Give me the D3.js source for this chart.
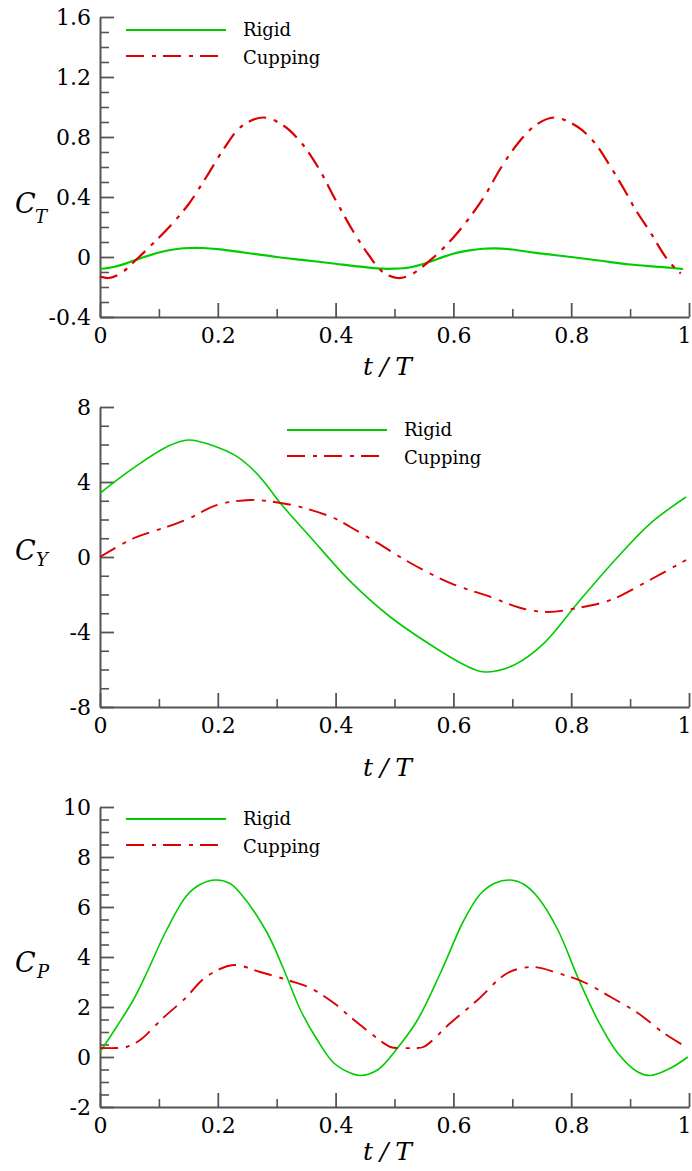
<!DOCTYPE html>
<html>
<head>
<meta charset="utf-8">
<script src="https://cdn.jsdelivr.net/npm/d3@7"></script>
<style>
html,body{margin:0;padding:0;background:#fff;}
svg{display:block;}
.tk{font-family:"DejaVu Serif";}
.mt{font-family:"DejaVu Serif";font-style:italic;}
</style>
</head>
<body>
<svg id="chart" width="692" height="1171"></svg>
<script>
// ---------- data ----------
const xTicks = [0, 0.2, 0.4, 0.6, 0.8, 1];
const xTickLabels = ["0", "0.2", "0.4", "0.6", "0.8", "1"];
const xMinorTicks = [0.1, 0.3, 0.5, 0.7, 0.9];

const ctTicks = [-0.4, 0, 0.4, 0.8, 1.2, 1.6];
const ctTickLabels = ["-0.4", "0", "0.4", "0.8", "1.2", "1.6"];
const cyTicks = [-8, -4, 0, 4, 8];
const cyTickLabels = ["-8", "-4", "0", "4", "8"];
const cpTicks = [-2, 0, 2, 4, 6, 8, 10];
const cpTickLabels = ["-2", "0", "2", "4", "6", "8", "10"];

const seriesNames = ["Rigid", "Cupping"];

// [t/T, value]
const ctRigid = [[0,-0.08],[0.025,-0.065],[0.05,-0.035],[0.075,0.0],[0.1,0.03],[0.125,0.05],[0.15,0.06],[0.175,0.06],[0.2,0.052],[0.23,0.037],[0.3,0.0],[0.35,-0.022],[0.4,-0.045],[0.425,-0.058],[0.45,-0.068],[0.48,-0.078],[0.5,-0.078],[0.525,-0.07],[0.55,-0.045],[0.575,-0.01],[0.6,0.022],[0.625,0.042],[0.65,0.055],[0.67,0.058],[0.7,0.05],[0.74,0.027],[0.8,0.0],[0.85,-0.025],[0.9,-0.05],[0.95,-0.066],[0.99,-0.08]];
const ctCupping = [[0,-0.13],[0.015,-0.14],[0.035,-0.11],[0.065,-0.005],[0.09,0.09],[0.12,0.21],[0.15,0.35],[0.18,0.53],[0.21,0.72],[0.24,0.87],[0.277,0.93],[0.31,0.88],[0.34,0.77],[0.37,0.6],[0.4,0.38],[0.43,0.17],[0.455,0.02],[0.48,-0.1],[0.505,-0.14],[0.527,-0.12],[0.567,0.0],[0.6,0.13],[0.625,0.25],[0.652,0.4],[0.68,0.59],[0.71,0.76],[0.74,0.88],[0.771,0.93],[0.81,0.87],[0.84,0.76],[0.867,0.6],[0.89,0.45],[0.907,0.33],[0.935,0.16],[0.964,-0.02],[0.986,-0.11]];

const cyRigid = [[0,3.4],[0.057,4.75],[0.113,5.87],[0.15,6.24],[0.198,5.87],[0.228,5.45],[0.255,4.8],[0.28,3.95],[0.306,2.88],[0.357,1.07],[0.425,-1.3],[0.493,-3.2],[0.567,-4.8],[0.618,-5.75],[0.64,-6.05],[0.658,-6.13],[0.703,-5.76],[0.754,-4.59],[0.811,-2.45],[0.879,0.0],[0.935,1.81],[0.995,3.2]];
const cyCupping = [[0,0],[0.057,1.0],[0.113,1.6],[0.153,2.08],[0.198,2.77],[0.255,3.04],[0.283,2.99],[0.34,2.67],[0.397,2.08],[0.425,1.6],[0.471,0.75],[0.527,-0.32],[0.595,-1.39],[0.663,-2.13],[0.714,-2.72],[0.76,-2.93],[0.811,-2.72],[0.867,-2.29],[0.924,-1.39],[0.995,-0.16]];

const cpRigid = [[0,0.2],[0.028,1.2],[0.057,2.3],[0.08,3.4],[0.113,5.08],[0.147,6.45],[0.17,6.9],[0.196,7.08],[0.22,6.95],[0.238,6.56],[0.283,5.0],[0.312,3.5],[0.34,1.9],[0.369,0.68],[0.397,-0.24],[0.425,-0.64],[0.442,-0.74],[0.471,-0.52],[0.505,0.36],[0.539,1.48],[0.578,3.36],[0.618,5.48],[0.645,6.5],[0.67,6.95],[0.697,7.08],[0.72,6.9],[0.743,6.4],[0.777,5.1],[0.811,3.2],[0.845,1.48],[0.879,0.16],[0.913,-0.6],[0.935,-0.74],[0.969,-0.44],[0.998,0.0]];
const cpCupping = [[0,0.36],[0.03,0.36],[0.045,0.4],[0.068,0.68],[0.107,1.56],[0.147,2.4],[0.17,3.0],[0.19,3.35],[0.227,3.68],[0.272,3.4],[0.318,3.08],[0.357,2.76],[0.397,2.16],[0.425,1.6],[0.459,0.96],[0.493,0.4],[0.51,0.36],[0.532,0.36],[0.549,0.4],[0.595,1.36],[0.641,2.28],[0.692,3.36],[0.736,3.6],[0.777,3.36],[0.821,3.0],[0.867,2.4],[0.913,1.76],[0.957,0.96],[0.995,0.4]];

// ---------- layout ----------
const svg = d3.select("#chart");
const X0 = 100, X1 = 689;
const x = d3.scaleLinear().domain([0, 1]).range([X0, X1]);
const GREEN = "#00cc00", RED = "#dd0000", AXIS = "#555";
const DASH = "18,8,4,7";

const panels = [
  {domain:[-0.4,1.6], range:[317,17], ticks:ctTicks, labels:ctTickLabels, minorStep:0.1,
   rigid:ctRigid, cupping:ctCupping, sub:"T", cBase:213, subBase:223, subX:35,
   titleBase:375, legX:126, legY:30, gw:2.2, rw:2.2},
  {domain:[-8,8], range:[707,407], ticks:cyTicks, labels:cyTickLabels, minorStep:1,
   rigid:cyRigid, cupping:cyCupping, sub:"Y", cBase:560, subBase:566, subX:36,
   titleBase:776, legX:287, legY:430, gw:1.6, rw:1.9},
  {domain:[-2,10], range:[1107,807], ticks:cpTicks, labels:cpTickLabels, minorStep:0.5,
   rigid:cpRigid, cupping:cpCupping, sub:"P", cBase:972, subBase:978, subX:37,
   titleBase:1160, legX:126, legY:819, gw:1.6, rw:1.9}
];

panels.forEach(p => {
  const y = d3.scaleLinear().domain(p.domain).range(p.range);
  const g = svg.append("g");
  const yBottom = p.range[0];

  const yMinor = d3.range(p.domain[0], p.domain[1] + 1e-9, p.minorStep)
    .filter(v => !p.ticks.some(t => Math.abs(t - v) < 1e-9));
  g.append("g").attr("transform", `translate(${X0},0)`)
    .call(d3.axisLeft(y).tickValues(yMinor).tickSize(-9).tickFormat(""))
    .call(a => a.select(".domain").remove())
    .call(a => a.selectAll("line").attr("stroke", AXIS).attr("stroke-width", 1.6));
  g.append("g").attr("transform", `translate(0,${yBottom})`)
    .call(d3.axisBottom(x).tickValues(xMinorTicks).tickSize(-8).tickFormat(""))
    .call(a => a.select(".domain").remove())
    .call(a => a.selectAll("line").attr("stroke", AXIS).attr("stroke-width", 1.6));

  const ya = g.append("g").attr("transform", `translate(${X0},0)`)
    .call(d3.axisLeft(y).tickValues(p.ticks).tickSize(-14).tickSizeOuter(0).tickPadding(9)
      .tickFormat((d, i) => p.labels[i]));
  const xa = g.append("g").attr("transform", `translate(0,${yBottom})`)
    .call(d3.axisBottom(x).tickValues(xTicks).tickSize(-14).tickSizeOuter(0).tickPadding(10)
      .tickFormat((d, i) => xTickLabels[i]));
  [ya, xa].forEach(a => {
    a.attr("font-family", null).attr("font-size", null);
    a.select(".domain").attr("stroke", AXIS).attr("stroke-width", 2);
    a.selectAll("line").attr("stroke", AXIS).attr("stroke-width", 1.8);
    a.selectAll("text").attr("fill", "#000").attr("class", "tk").attr("font-size", 22);
  });
  ya.selectAll("text").attr("dy", "0.36em");
  xa.selectAll(".tick").filter(d => d === 1).select("text")
    .attr("text-anchor", "end").attr("x", 2);

  const line = d3.line().x(d => x(d[0])).y(d => y(d[1])).curve(d3.curveCatmullRom.alpha(0.5));
  g.append("path").datum(p.rigid).attr("d", line)
    .attr("fill", "none").attr("stroke", GREEN).attr("stroke-width", p.gw);
  g.append("path").datum(p.cupping).attr("d", line)
    .attr("fill", "none").attr("stroke", RED).attr("stroke-width", p.rw)
    .attr("stroke-dasharray", DASH);

  const lg = g.append("g");
  lg.append("line").attr("x1", p.legX).attr("x2", p.legX + 100).attr("y1", p.legY).attr("y2", p.legY)
    .attr("stroke", GREEN).attr("stroke-width", 2);
  lg.append("line").attr("x1", p.legX).attr("x2", p.legX + 94).attr("y1", p.legY + 26).attr("y2", p.legY + 26)
    .attr("stroke", RED).attr("stroke-width", 2).attr("stroke-dasharray", DASH);
  seriesNames.forEach((n, i) => {
    lg.append("text").attr("class", "tk").attr("x", p.legX + 117).attr("y", p.legY + 6 + i * 28)
      .attr("font-size", 18).attr("fill", "#000").text(n);
  });

  g.append("text").attr("class", "mt").attr("x", 15).attr("y", p.cBase)
    .attr("font-size", 27).attr("fill", "#000").text("C");
  g.append("text").attr("class", "mt").attr("x", p.subX).attr("y", p.subBase)
    .attr("font-size", 18).attr("fill", "#000").text(p.sub);

  g.append("text").attr("class", "mt").attr("x", 363).attr("y", p.titleBase)
    .attr("textLength", 49).attr("lengthAdjust", "spacing")
    .attr("font-size", 25).attr("fill", "#000").text("t/T");
});
</script>
</body>
</html>
